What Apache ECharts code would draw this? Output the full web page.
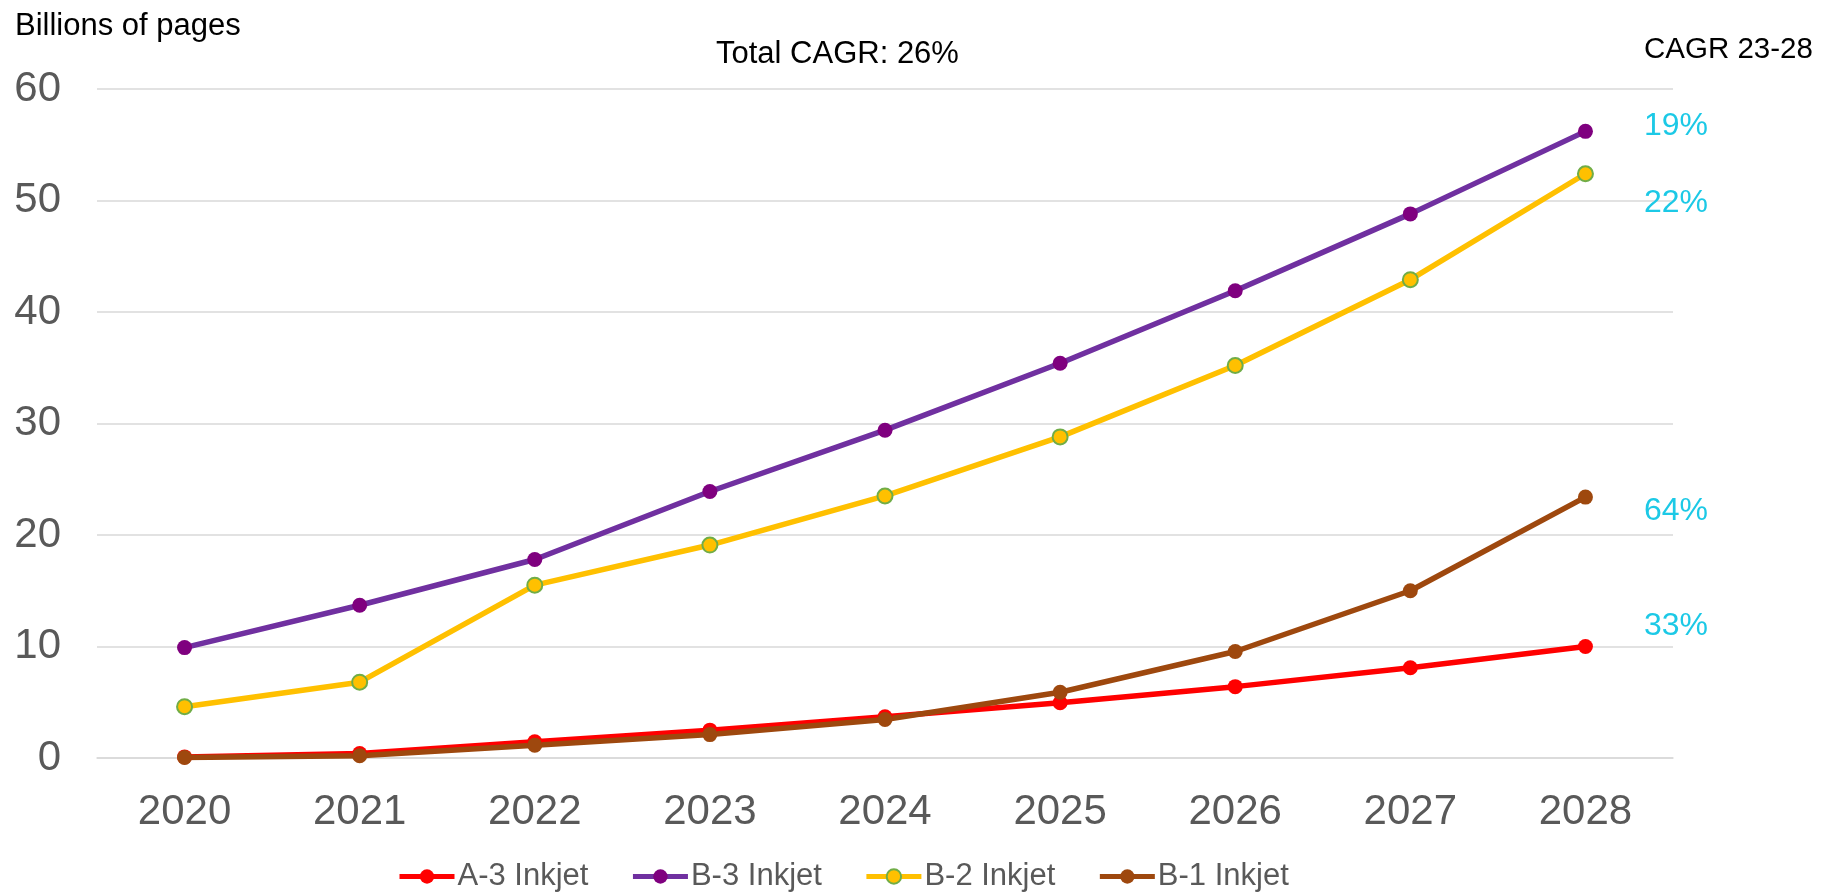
<!DOCTYPE html>
<html>
<head>
<meta charset="utf-8">
<script src="https://cdn.jsdelivr.net/npm/echarts@6/dist/echarts.min.js"></script>
<style>
  html, body { margin: 0; padding: 0; background: #fff; }
  #chart { width: 1837px; height: 892px; }
</style>
</head>
<body>
<div id="chart"></div>
<script>
  // data
  const years = ['2020', '2021', '2022', '2023', '2024', '2025', '2026', '2027', '2028']
  const a3Inkjet = [0.1, 0.4, 1.45, 2.5, 3.7, 4.95, 6.4, 8.1, 10.0]
  const b3Inkjet = [9.9, 13.7, 17.8, 23.9, 29.4, 35.4, 41.9, 48.8, 56.2]
  const b2Inkjet = [4.6, 6.8, 15.5, 19.1, 23.5, 28.8, 35.2, 42.9, 52.4]
  const b1Inkjet = [0.05, 0.2, 1.15, 2.1, 3.45, 5.9, 9.55, 15.0, 23.4]
  const cagrLabels = ['19%', '22%', '64%', '33%']

  const font = 'Liberation Sans, Arial, sans-serif'
  const cagrColor = '#1CC9E6'

  let mychart = echarts.init(document.getElementById('chart'))

  function lineSeries (name, data, lineColor, markerColor, markerBorder) {
    return {
      name: name,
      type: 'line',
      data: data,
      symbol: 'circle',
      symbolSize: 15,
      lineStyle: { color: lineColor, width: 5.5 },
      itemStyle: {
        color: markerColor,
        borderColor: markerBorder || markerColor,
        borderWidth: markerBorder ? 2 : 0
      },
      emphasis: { disabled: true }
    }
  }

  function label (text, left, top, size, color) {
    return { text: text, left: left, top: top, textStyle: { fontSize: size, fontWeight: 'normal', color: color, fontFamily: font } }
  }

  let options = {
    animation: false,
    textStyle: { fontFamily: font },
    grid: { left: 97, right: 164, top: 89, bottom: 134, containLabel: false },
    title: [
      label('Billions of pages', 10, 6, 31, '#000'),
      label('Total CAGR: 26%', 711, 34, 31, '#000'),
      label('CAGR 23-28', 1639, 30, 29.5, '#000'),
      label(cagrLabels[0], 1639, 105, 32, cagrColor),
      label(cagrLabels[1], 1639, 182, 32, cagrColor),
      label(cagrLabels[2], 1639, 490, 32, cagrColor),
      label(cagrLabels[3], 1639, 605, 32, cagrColor)
    ],
    legend: {
      left: 392,
      top: 856,
      itemWidth: 55,
      itemHeight: 18,
      itemGap: 42,
      lineStyle: { width: 5 },
      textStyle: { fontSize: 31, color: '#595959', fontFamily: font, padding: [0, 0, 0, -2] },
      data: ['A-3 Inkjet', 'B-3 Inkjet', 'B-2 Inkjet', 'B-1 Inkjet']
    },
    xAxis: {
      type: 'category',
      data: years,
      boundaryGap: true,
      axisLine: { lineStyle: { color: '#D9D9D9', width: 1.5 } },
      axisTick: { show: false },
      axisLabel: { fontSize: 42, color: '#595959', margin: 33, fontFamily: font }
    },
    yAxis: {
      type: 'value',
      min: 0,
      max: 60,
      interval: 10,
      axisLine: { show: false },
      axisTick: { show: false },
      splitLine: { lineStyle: { color: '#D9D9D9', width: 1.5 } },
      axisLabel: { fontSize: 42, color: '#595959', margin: 36, fontFamily: font }
    },
    series: [
      lineSeries('A-3 Inkjet', a3Inkjet, '#FF0000', '#FF0000'),
      lineSeries('B-3 Inkjet', b3Inkjet, '#7030A0', '#7F007F'),
      lineSeries('B-2 Inkjet', b2Inkjet, '#FFC000', '#FFC000', '#70AD47'),
      lineSeries('B-1 Inkjet', b1Inkjet, '#9E480E', '#9E480E')
    ]
  }
  mychart.setOption(options)
</script>
</body>
</html>
